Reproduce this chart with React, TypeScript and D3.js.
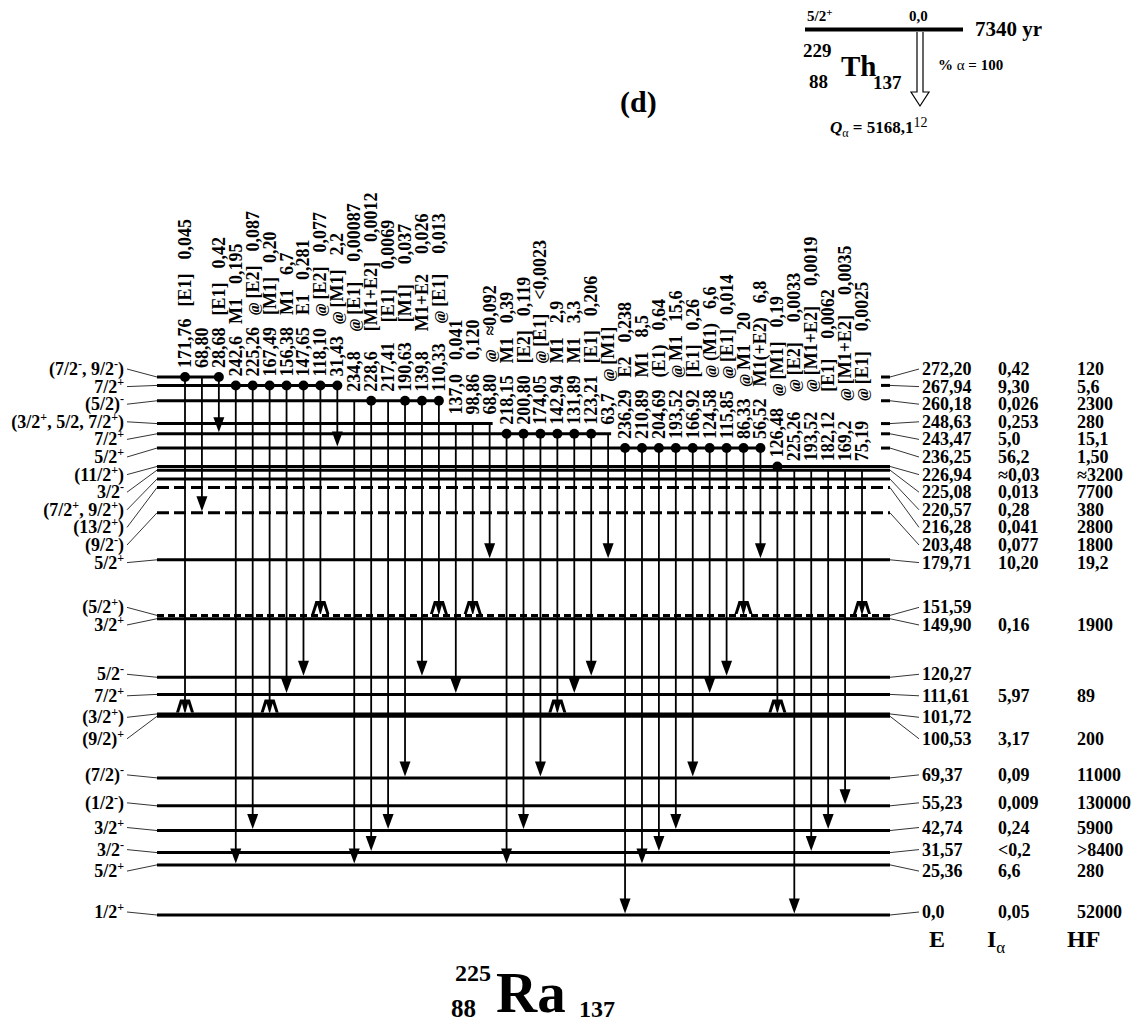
import React from 'react';
import * as d3 from 'd3';

// 225Ra levels (keV), top to bottom
const levelE = [272.2, 267.94, 260.18, 248.63, 243.47, 236.25, 226.94, 225.08, 220.57, 216.28, 203.48, 179.71,
  151.59, 149.9, 120.27, 111.61, 101.72, 100.53, 69.37, 55.23, 42.74, 31.57, 25.36, 0.0];
const levelText = ['272,20', '267,94', '260,18', '248,63', '243,47', '236,25', '226,94', '225,08', '220,57', '216,28',
  '203,48', '179,71', '151,59', '149,90', '120,27', '111,61', '101,72', '100,53', '69,37', '55,23', '42,74', '31,57',
  '25,36', '0,0'];
const levelJpi = ['(7/2^-, 9/2^-)', '7/2^+', '(5/2)^-', '(3/2^+, 5/2, 7/2^+)', '7/2^+', '5/2^+', '(11/2^+)', '3/2^-',
  '(7/2^+, 9/2^+)', '(13/2^+)', '(9/2^-)', '5/2^+', '(5/2^+)', '3/2^+', '5/2^-', '7/2^+', '(3/2^+)', '(9/2)^+',
  '(7/2)^-', '(1/2^-)', '3/2^+', '3/2^-', '5/2^+', '1/2^+'];
const levelIalpha = ['0,42', '9,30', '0,026', '0,253', '5,0', '56,2', '≈0,03', '0,013', '0,28', '0,041', '0,077',
  '10,20', '', '0,16', '', '5,97', '', '3,17', '0,09', '0,009', '0,24', '<0,2', '6,6', '0,05'];
const levelHF = ['120', '5,6', '2300', '280', '15,1', '1,50', '≈3200', '7700', '380', '2800', '1800', '19,2', '',
  '1900', '', '89', '', '200', '11000', '130000', '5900', '>8400', '280', '52000'];
const tentativeLevels = [216.28, 203.48, 151.59];

// gamma transitions, left to right
const gammaE = ['171,76', '68,80', '28,68', '242,6', '225,26', '167,49', '156,38', '147,65', '118,10', '31,43',
  '234,8', '228,6', '217,41', '190,63', '139,8', '110,33', '137,0', '98,86', '68,80', '218,15', '200,80', '174,05',
  '142,94', '131,89', '123,21', '63,7', '236,29', '210,89', '204,69', '193,52', '166,92', '124,58', '115,85', '86,33',
  '56,52', '126,48', '225,26', '193,52', '182,12', '169,2', '75,19'];
const gammaMult = ['[E1]', '', '[E1]', 'M1', '@ [E2]', '[M1]', 'M1', 'E1', '@ [E2]', '@ [M1]', '@ [E1]', '[M1+E2]',
  '[E1]', '[M1]', 'M1+E2', '@ [E1]', '', '', '@', 'M1', '[E2]', '@ [E1]', 'M1', 'M1', '[E1]', '@ [M1]', 'E2', 'M1',
  '(E1)', '@ M1', '[E1]', '@ (M1)', '@ [E1]', '@ M1', 'M1(+E2)', '@ [M1]', '@ [E2]', '@ [M1+E2]', '[E1]',
  '@ [M1+E2]', '@ [E1]'];
const gammaInt = ['0,045', '', '0,42', '0,195', '0,087', '0,20', '6,7', '0,281', '0,077', '2,2', '0,00087', '0,0012',
  '0,0069', '0,037', '0,026', '0,013', '0,041', '0,120', '≈0,092', '0,39', '0,119', '<0,0023', '2,9', '3,3', '0,206',
  '', '0,238', '8,5', '0,64', '15,6', '0,26', '6,6', '0,014', '20', '6,8', '0,19', '0,0033', '0,0019', '0,0062',
  '0,0035', '0,0025'];
const gammaFrom = [272.2, 272.2, 272.2, 267.94, 267.94, 267.94, 267.94, 267.94, 267.94, 267.94, 260.18, 260.18,
  260.18, 260.18, 260.18, 260.18, 248.63, 248.63, 248.63, 243.47, 243.47, 243.47, 243.47, 243.47, 243.47, 243.47,
  236.25, 236.25, 236.25, 236.25, 236.25, 236.25, 236.25, 236.25, 236.25, 226.94, 225.08, 225.08, 225.08, 225.08,
  225.08];
const gammaTo = [100.53, 203.48, 243.47, 25.36, 42.74, 100.53, 111.61, 120.27, 149.9, 236.25, 25.36, 31.57, 42.74,
  69.37, 120.27, 149.9, 111.61, 149.9, 179.71, 25.36, 42.74, 69.37, 100.53, 111.61, 120.27, 179.71, 0, 25.36, 31.57,
  42.74, 69.37, 111.61, 120.27, 149.9, 179.71, 100.53, 0, 31.57, 42.74, 55.23, 149.9];
const gammaCoinc = [1, 0, 1, 1, 1, 1, 1, 1, 1, 1, 0, 1, 0, 1, 1, 1, 0, 0, 0, 1, 1, 1, 1, 1, 1, 0, 1, 1, 1, 1, 1, 1,
  1, 1, 1, 1, 0, 0, 0, 0, 0];

const FONT = "'Liberation Serif', 'Times New Roman', serif";
const LEFT = 157, RIGHT = 890;

// "7/2^+" -> tspans with superscript parity
const Rich = ({ s, sup = 12, shift = 7 }: { s: string; sup?: number; shift?: number }) => {
  const parts = s.split(/(\^[+-])/).filter(p => p !== '');
  let raised = false;
  return (
    <>
      {parts.map((p, i) => {
        if (p[0] === '^') {
          raised = true;
          return <tspan key={i} dy={-shift} fontSize={sup}>{p[1]}</tspan>;
        }
        const dy = raised ? shift : 0;
        raised = false;
        return <tspan key={i} dy={dy}>{p}</tspan>;
      })}
    </>
  );
};

// multipolarity with a smaller italic "@"
const Mult = ({ s, gap }: { s: string; gap: number }) => {
  const at = s.startsWith('@');
  const rest = at ? s.slice(1).trim() : s;
  return (
    <>
      {at && <tspan dx={gap} fontSize={15} fontStyle="italic">@</tspan>}
      {rest && <tspan dx={at ? 4 : gap}>{rest}</tspan>}
    </>
  );
};

export default function App() {
  const y = d3.scaleLinear().domain([0, 272.2]).range([915, 377]);
  const x = d3.scalePoint<number>().domain(d3.range(gammaE.length)).range([185, 862]);

  // last outgoing column per level, used to cut the top levels short
  const lastCol = new Map<number, number>();
  gammaFrom.forEach((e, i) => lastCol.set(e, i));
  const isCut = (e: number) => {
    if (!lastCol.has(e)) return false;
    const k = lastCol.get(e)!;
    return gammaFrom.some((f, j) => j > k && f < e - 3);
  };

  // label rows: pushed down from the top so they don't overlap
  const rows: number[] = [];
  levelE.forEach((e, i) => {
    const ly = y(e);
    const upper = ly < 650;
    const want = ly - (upper ? 8 : 3);
    const gap = upper ? 17.6 : 21.5;
    rows.push(i === 0 ? want : Math.max(want, rows[i - 1] + gap));
  });

  const partner = (e: number) => levelE.find(o => o !== e && Math.abs(o - e) < 2.5);

  return (
    <svg width={1136} height={1023} style={{ position: 'absolute', left: 0, top: 0, background: '#fff' }}
      fontFamily={FONT} fontWeight="bold">
      {/* title and parent */}
      <text x={620} y={112} fontSize={30}>(d)</text>
      <line x1={805} x2={963} y1={29.5} y2={29.5} stroke="#000" strokeWidth={4} />
      <text x={807} y={21} fontSize={15}><Rich s="5/2^+" sup={11} shift={5} /></text>
      <text x={909} y={21} fontSize={15}>0,0</text>
      <text x={975} y={36} fontSize={21}>7340 yr</text>
      <text x={803} y={57} fontSize={19}>229</text>
      <text x={809} y={88} fontSize={19}>88</text>
      <text x={841} y={76} fontSize={29}>Th</text>
      <text x={873} y={89} fontSize={19}>137</text>
      <text x={938} y={70} fontSize={15}>% <tspan fontWeight="normal">α</tspan> = 100</text>
      <path d="M917,32 V92 H911 L920,106 L929,92 H923 V32" fill="#fff" stroke="#000" strokeWidth={1.2} />
      <text x={830} y={133} fontSize={17}>
        <tspan fontStyle="italic">Q</tspan>
        <tspan dy={4} fontSize={12} fontWeight="normal">α</tspan>
        <tspan dy={-4}> = 5168,1</tspan>
        <tspan dy={-6} fontSize={14} fontWeight="normal">12</tspan>
      </text>

      {/* levels */}
      {levelE.map((e, i) => {
        const ly = y(e);
        const cut = isCut(e);
        const end = cut ? x(lastCol.get(e)!)! + 3 : RIGHT;
        const dash = tentativeLevels.includes(e) ? (e === 151.59 ? '7,4' : '12,5') : undefined;
        return (
          <g key={'l' + i}>
            <line x1={LEFT} x2={end} y1={ly} y2={ly} stroke="#000" strokeWidth={3} strokeDasharray={dash} />
            {cut && <line x1={881} x2={RIGHT} y1={ly} y2={ly} stroke="#000" strokeWidth={3} />}
            <line x1={127} y1={rows[i]} x2={LEFT} y2={ly} stroke="#000" strokeWidth={0.8} />
            <line x1={RIGHT} y1={ly} x2={919} y2={rows[i]} stroke="#000" strokeWidth={0.8} />
            <text x={124} y={rows[i] + 6} fontSize={18} textAnchor="end"><Rich s={levelJpi[i]} /></text>
            <text x={922} y={rows[i] + 6} fontSize={18}>{levelText[i]}</text>
            <text x={998} y={rows[i] + 6} fontSize={18}>{levelIalpha[i]}</text>
            <text x={1077} y={rows[i] + 6} fontSize={18}>{levelHF[i]}</text>
          </g>
        );
      })}

      {/* gammas */}
      {gammaE.map((g, i) => {
        const gx = x(i)!;
        const y0 = y(gammaFrom[i]);
        const p = partner(gammaTo[i]);
        const base = Math.min(y(gammaTo[i]), p !== undefined ? y(p) : Infinity) - 1.5;
        const doublet = p !== undefined;
        const stop = doublet ? base - 12 : base - 14;
        // the weak branches out of 260 and 225 keV are spread a little wider in the original
        const wide = gammaFrom[i] === 260.18 || gammaFrom[i] === 225.08;
        return (
          <g key={'g' + i}>
            <line x1={gx} x2={gx} y1={y0} y2={stop} stroke="#000" strokeWidth={1.8} />
            {doublet ? (
              <g>
                <path d={`M${gx - 9},${base} L${gx - 5},${base - 13} L${gx + 5},${base - 13} L${gx + 9},${base} Z`} fill="#000" />
                <path d={`M${gx - 6},${base} L${gx - 3},${base - 9} L${gx - 0.5},${base} Z`} fill="#fff" />
                <path d={`M${gx + 0.5},${base} L${gx + 3},${base - 9} L${gx + 6},${base} Z`} fill="#fff" />
              </g>
            ) : (
              <path d={`M${gx - 5.5},${base - 15} L${gx + 5.5},${base - 15} L${gx},${base} Z`} fill="#000" />
            )}
            {gammaCoinc[i] === 1 && <circle cx={gx} cy={y0} r={5} fill="#000" />}
            <text transform={`translate(${gx + 6},${y0 - 9}) rotate(-90)`} fontSize={18}>
              <tspan>{g}</tspan>
              {gammaMult[i] && <Mult s={gammaMult[i]} gap={wide ? 20 : 12} />}
              {gammaInt[i] && <tspan dx={wide ? 20 : 14}>{gammaInt[i]}</tspan>}
            </text>
          </g>
        );
      })}

      {/* column headers */}
      <text x={929} y={947} fontSize={24}>E</text>
      <text x={987} y={947} fontSize={24}>I<tspan dy={6} fontSize={17} fontWeight="normal">α</tspan></text>
      <text x={1067} y={947} fontSize={24}>HF</text>

      {/* daughter */}
      <text x={455} y={981} fontSize={24}>225</text>
      <text x={451} y={1017} fontSize={25}>88</text>
      <text x={496} y={1012} fontSize={57}>Ra</text>
      <text x={579} y={1017} fontSize={24}>137</text>
    </svg>
  );
}
